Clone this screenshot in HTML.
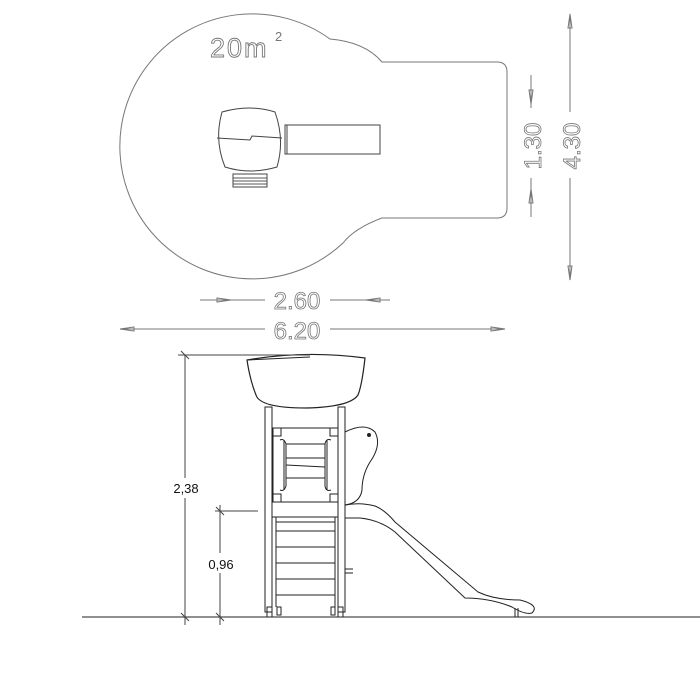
<!DOCTYPE html>
<html><head><style>html,body{margin:0;padding:0;background:#fff}svg{display:block}</style></head>
<body>
<svg width="700" height="700" viewBox="0 0 700 700" xmlns="http://www.w3.org/2000/svg" fill="none" stroke="#555" stroke-width="1">
<!-- top view outline -->
<path d="M382,62 L497,62 Q507,62 507,72 L507,208 Q507,218 497,218 L382,218 Q355,228 343,243 A132.5,132.5 0 1 1 330,39 Q365,42 382,62 Z" stroke="#777"/>
<text x="210" y="57" font-family="Liberation Sans, sans-serif" font-size="27" fill="none" stroke="#777" stroke-width="0.9" letter-spacing="2">20m</text>
<text x="275" y="41" font-family="Liberation Sans, sans-serif" font-size="13" fill="#777" stroke="none">2</text>
<!-- structure top -->
<path d="M222,112 Q250,104 275,112 Q285,140 277,167 Q250,175 225,167 Q214,140 222,112 Z" stroke="#444"/>
<path d="M217,138 L250,140 L252,136 L282,138" stroke="#444"/>
<rect x="285" y="125" width="95" height="29" stroke="#444"/>
<line x1="287" y1="125" x2="287" y2="154" stroke="#444"/>
<rect x="233" y="174" width="34" height="13" stroke="#444"/>
<line x1="233" y1="178" x2="267" y2="178"/><line x1="233" y1="181" x2="267" y2="181"/><line x1="233" y1="184" x2="267" y2="184"/>
<!-- vertical dims -->
<g stroke="#777">
<line x1="570" y1="14" x2="570" y2="280"/>
<path d="M568,28 L570,14 L572,28 Z M568,266 L570,280 L572,266 Z"/>
<line x1="531" y1="75" x2="531" y2="217"/>
<path d="M529,90 L531,104 L533,90 Z M529,203 L531,189 L533,203 Z"/>
<rect x="520" y="108" width="22" height="70" fill="#fff" stroke="none"/>
<rect x="559" y="112" width="22" height="66" fill="#fff" stroke="none"/>
<line x1="200" y1="300" x2="390" y2="300"/>
<path d="M217,298 L231,300 L217,302 Z M380,298 L366,300 L380,302 Z"/>
<line x1="120" y1="329" x2="505" y2="329"/>
<path d="M120,329 L134,327 L134,331 Z M505,329 L491,327 L491,331 Z"/>
<rect x="265" y="290" width="65" height="20" fill="#fff" stroke="none"/>
<rect x="265" y="319" width="65" height="20" fill="#fff" stroke="none"/>
</g>
<g font-family="Liberation Sans, sans-serif" font-size="24" fill="none" stroke="#777" stroke-width="0.8">
<text x="297" y="309" text-anchor="middle">2.60</text>
<text x="297" y="339" text-anchor="middle">6.20</text>
<text transform="translate(541,146) rotate(-90)" text-anchor="middle">1.30</text>
<text transform="translate(580,146) rotate(-90)" text-anchor="middle">4.30</text>
</g>
<!-- side view -->
<g stroke="#222">
<line x1="82" y1="617" x2="700" y2="617"/>
<path d="M247,360 Q305,350 365,358 Q362,385 358,395 Q350,407 306,408 Q260,408 256,395 Q250,380 247,360 Z" stroke-width="1.2"/>
<line x1="247" y1="360" x2="310" y2="357"/>
<rect x="265" y="407" width="7" height="205"/>
<rect x="338" y="407" width="7" height="205"/>
<rect x="267" y="607" width="5" height="10"/><rect x="338" y="607" width="5" height="10"/>
<rect x="273" y="428" width="65" height="74"/>
<rect x="273" y="428" width="8" height="8"/><rect x="330" y="428" width="8" height="8"/>
<rect x="273" y="494" width="8" height="8"/><rect x="330" y="494" width="8" height="8"/>
<path d="M280,440 Q284,438 286,444 L286,486 Q284,492 280,490"/><path d="M284,440 L284,490"/>
<path d="M331,440 Q326,438 325,444 L325,486 Q326,492 331,490"/><path d="M327,440 L327,490"/>
<line x1="286" y1="444" x2="325" y2="444"/><line x1="286" y1="458" x2="325" y2="458"/>
<line x1="286" y1="465" x2="325" y2="467"/><line x1="286" y1="478" x2="325" y2="478"/>
<rect x="272" y="502" width="66" height="15"/>
<line x1="276" y1="517" x2="276" y2="607"/><line x1="335" y1="517" x2="335" y2="607"/>
<line x1="276" y1="522" x2="335" y2="522"/><line x1="276" y1="531" x2="335" y2="531"/>
<line x1="276" y1="547" x2="335" y2="547"/><line x1="276" y1="563" x2="335" y2="563"/>
<line x1="276" y1="579" x2="335" y2="579"/><line x1="276" y1="595" x2="335" y2="595"/>
<rect x="277" y="607" width="4" height="8"/><rect x="331" y="607" width="4" height="8"/>
<path d="M345,432 Q365,422 375,432 Q382,445 370,462 Q362,475 362,490 Q360,503 345,505"/>
<circle cx="369" cy="435" r="1.5" fill="#222"/>
<path d="M345,505 Q360,502 375,506 Q385,510 395,522 L478,592 Q495,600 520,600 Q540,605 532,613 Q525,615 512,607 Q490,598 465,598 L395,532 Q380,520 360,518 L345,518"/>
<line x1="515" y1="608" x2="515" y2="617"/><line x1="518" y1="608" x2="518" y2="617"/>
<line x1="345" y1="569" x2="353" y2="569"/><line x1="345" y1="573" x2="353" y2="573"/>
</g>
<g stroke="#444">
<line x1="178" y1="355" x2="310" y2="355"/>
<line x1="185" y1="355" x2="185" y2="625"/>
<line x1="215" y1="511" x2="258" y2="511"/>
<line x1="220" y1="505" x2="220" y2="625"/>
<path d="M181,351 L189,359 M181,613 L189,621 M216,507 L224,515 M216,613 L224,621"/>
<rect x="160" y="478" width="50" height="20" fill="#fff" stroke="none"/>
<rect x="200" y="553" width="45" height="20" fill="#fff" stroke="none"/>
</g>
<g font-family="Liberation Sans, sans-serif" font-size="13" fill="#111" stroke="none">
<text x="186" y="493" text-anchor="middle">2,38</text>
<text x="221" y="569" text-anchor="middle">0,96</text>
</g>
</svg>
</body></html>
